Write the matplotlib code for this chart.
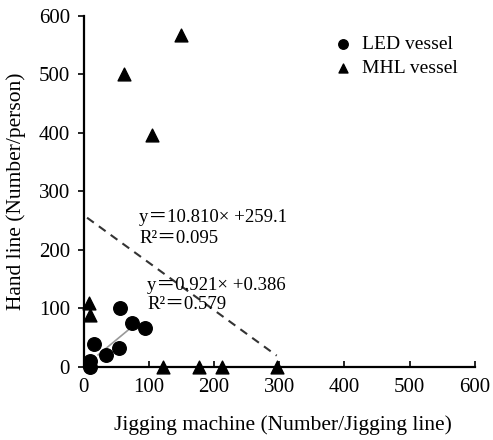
import matplotlib
matplotlib.use("Agg")
import matplotlib.pyplot as plt
import numpy as np

plt.rcParams['font.family'] = ['Liberation Serif', 'Noto Sans CJK SC', 'DejaVu Serif']

led_x = [10, 10, 15, 34, 54, 55, 74, 94]
led_y = [0, 10, 40, 20, 32, 101, 75, 67]
mhl_x = [8, 10, 62, 105, 149, 122, 177, 212, 296]
mhl_y = [109, 89, 501, 397, 568, 0, 0, 0, 0]
led_fit = (0.921, 0.386)
mhl_fit = (-0.810, 259.1)
led_fit_range = (22, 75)
mhl_fit_range = (5, 296)
xticks = [0, 100, 200, 300, 400, 500, 600]
yticks = [0, 100, 200, 300, 400, 500, 600]

fig = plt.figure(figsize=(4.93, 4.40), dpi=100)
ax = fig.add_axes([0.170, 0.166, 0.793, 0.798])

ax.scatter(led_x, led_y, marker='o', s=95, color='black', label='LED vessel', zorder=3, clip_on=False)
ax.scatter(mhl_x, mhl_y, marker='^', s=85, color='black', label='MHL vessel', zorder=3, clip_on=False)

lx = np.array(led_fit_range)
ax.plot(lx, led_fit[0] * lx + led_fit[1], color='#999999', lw=1.2, zorder=2)
mx = np.array(mhl_fit_range)
ax.plot(mx, mhl_fit[0] * mx + mhl_fit[1], color='#333333', lw=1.5, ls=(0, (4, 3)), zorder=2)

tfs = 13.5
ax.text(85, 256, 'y＝10.810× +259.1', fontsize=tfs, va='center')
ax.text(85, 220, 'R²＝0.095', fontsize=tfs, va='center')
ax.text(97, 140, 'y＝0.921× +0.386', fontsize=tfs, va='center')
ax.text(97, 106, 'R²＝0.579', fontsize=tfs, va='center')

ax.set_xlim(0, 600)
ax.set_ylim(0, 600)
ax.set_xticks(xticks)
ax.set_yticks(yticks)
for s in ['top', 'right']:
    ax.spines[s].set_visible(False)
for s in ['left', 'bottom']:
    ax.spines[s].set_linewidth(1.6)
ax.tick_params(axis='x', direction='in', length=4, width=1.2, labelsize=15, pad=8)
ax.tick_params(axis='y', direction='out', length=4, width=1.2, labelsize=15, pad=6)

ax.set_xlabel('Jigging machine (Number/Jigging line)', fontsize=15.5, va='center')
ax.set_ylabel('Hand line (Number/person)', fontsize=15.5, va='center')
ax.xaxis.set_label_coords(0.51, -0.165)
ax.yaxis.set_label_coords(-0.172, 0.5)

ax.legend(loc='upper right', bbox_to_anchor=(1.0, 0.995), frameon=False, fontsize=14,
          handlelength=0.9, handletextpad=0.5, labelspacing=0.35, markerscale=0.7)

fig.savefig('out.png', dpi=100)
